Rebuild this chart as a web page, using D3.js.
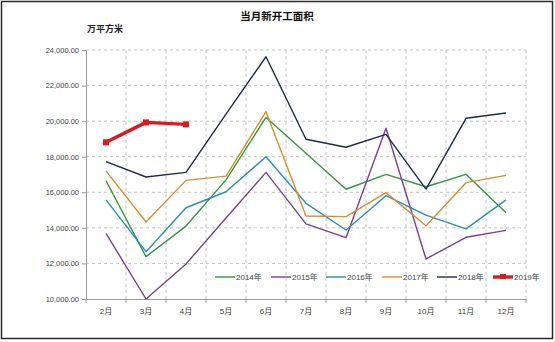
<!DOCTYPE html>
<html>
<head>
<meta charset="utf-8">
<script src="https://cdn.jsdelivr.net/npm/d3@7"></script>
<style>
  html, body { margin: 0; padding: 0; background: #fff; }
  svg { display: block; }
  text { font-family: "Liberation Sans", "Noto Sans CJK SC", sans-serif; }
</style>
</head>
<body>
<svg id="chart" width="555" height="342"></svg>
<script>
// Monthly new construction area (10k m²), Feb–Dec, one series per year
const months = ["2月", "3月", "4月", "5月", "6月", "7月", "8月", "9月", "10月", "11月", "12月"];
const years = ["2014年", "2015年", "2016年", "2017年", "2018年", "2019年"];
const yTicks = [10000, 12000, 14000, 16000, 18000, 20000, 22000, 24000];

const v2014 = [16650, 12380, 14100, 16700, 20210, 18190, 16170, 17010, 16310, 17010, 14850];
const v2015 = [13690, 10000, 11970, 14550, 17120, 14220, 13450, 19600, 12250, 13470, 13860];
const v2016 = [15570, 12660, 15130, 16030, 18000, 15380, 13880, 15810, 14720, 13940, 15570];
const v2017 = [17200, 14330, 16670, 16910, 20530, 14670, 14630, 15980, 14120, 16540, 16950];
const v2018 = [17720, 16860, 17120, 20400, 23620, 18980, 18530, 19260, 16180, 20160, 20460];
const v2019 = [18810, 19930, 19820];

const seriesValues = [v2014, v2015, v2016, v2017, v2018, v2019];
const colors = ["#2f9a3a", "#7a3f9d", "#2a8cc4", "#d98d2e", "#1e2b4e", "#e0181e"];
const widths = [1.4, 1.4, 1.4, 1.4, 1.4, 3.4];

const svg = d3.select("#chart");

// outer frame
svg.append("rect")
  .attr("x", 1.5).attr("y", 1.5).attr("width", 551).attr("height", 337)
  .attr("fill", "#fff").attr("stroke", "#2b2b2b").attr("stroke-width", 1.5);

const x = d3.scaleBand().domain(months).range([86, 526]).padding(0);
const y = d3.scaleLinear().domain([10000, 24000]).range([299, 50]);
const cx = m => x(m) + x.bandwidth() / 2;

// horizontal gridlines
svg.append("g").selectAll("line").data(yTicks.slice(1)).join("line")
  .attr("x1", 86).attr("x2", 526)
  .attr("y1", d => y(d)).attr("y2", d => y(d))
  .attr("stroke", "#b5b5b5").attr("stroke-width", 0.8).attr("stroke-dasharray", "3,3");

// vertical gridlines at category boundaries
svg.append("g").selectAll("line").data(months.map(m => x(m) + x.bandwidth())).join("line")
  .attr("x1", d => d).attr("x2", d => d)
  .attr("y1", y(24000)).attr("y2", y(10000))
  .attr("stroke", "#b5b5b5").attr("stroke-width", 0.8).attr("stroke-dasharray", "3,3");

// y axis
const yAxis = svg.append("g")
  .attr("transform", "translate(86,0)")
  .call(d3.axisLeft(y).tickValues(yTicks).tickFormat(d3.format(",.2f")).tickSize(4).tickPadding(3));
yAxis.select(".domain").attr("stroke", "#9a9a9a");
yAxis.selectAll(".tick line").attr("stroke", "#9a9a9a");
yAxis.selectAll(".tick text").attr("fill", "#444").style("font-size", "7.5px")
  .style("font-family", "'Liberation Sans', sans-serif");

// x axis
const xAxis = svg.append("g")
  .attr("transform", `translate(0,${y(10000)})`)
  .call(d3.axisBottom(x).tickSize(0).tickPadding(9));
xAxis.select(".domain").attr("stroke", "#9a9a9a");
xAxis.selectAll(".tick text").attr("fill", "#444").style("font-size", "8px")
  .style("font-family", "'Liberation Sans', 'Noto Sans CJK SC', sans-serif");
// tick marks on category boundaries
xAxis.append("g").selectAll("line").data([x(months[0])].concat(months.map(m => x(m) + x.bandwidth()))).join("line")
  .attr("x1", d => d).attr("x2", d => d).attr("y1", 0).attr("y2", 4)
  .attr("stroke", "#9a9a9a");

// series lines
const line = d3.line().x((d, i) => cx(months[i])).y(d => y(d));
seriesValues.forEach((vals, k) => {
  svg.append("path")
    .datum(vals)
    .attr("fill", "none")
    .attr("stroke", colors[k])
    .attr("stroke-width", widths[k])
    .attr("stroke-linejoin", "round")
    .attr("d", line);
});

// square markers on the 2019 series
svg.append("g").selectAll("rect").data(v2019).join("rect")
  .attr("x", (d, i) => cx(months[i]) - 3)
  .attr("y", d => y(d) - 3)
  .attr("width", 6).attr("height", 6)
  .attr("fill", colors[5]);

// legend
const legendX = [215, 271, 326, 382, 437, 493];
const legendY = 277;
const lg = svg.append("g");
years.forEach((name, k) => {
  lg.append("line")
    .attr("x1", legendX[k]).attr("x2", legendX[k] + 20)
    .attr("y1", legendY).attr("y2", legendY)
    .attr("stroke", colors[k]).attr("stroke-width", widths[k]);
  if (k === 5) {
    lg.append("rect").attr("x", legendX[k] + 7).attr("y", legendY - 3)
      .attr("width", 6).attr("height", 5).attr("fill", colors[k]);
  }
  lg.append("text")
    .attr("x", legendX[k] + 21).attr("y", legendY + 3)
    .attr("fill", "#444").style("font-size", "8px")
    .text(name);
});

// title and unit
svg.append("text")
  .attr("x", 277).attr("y", 20)
  .attr("text-anchor", "middle")
  .style("font-size", "10.5px").style("font-weight", "bold")
  .style("font-family", "'Noto Sans CJK SC', sans-serif")
  .attr("fill", "#111")
  .text("当月新开工面积");

svg.append("text")
  .attr("x", 87).attr("y", 32)
  .style("font-size", "9px").style("font-weight", "bold")
  .style("font-family", "'Noto Sans CJK SC', sans-serif")
  .attr("fill", "#222")
  .text("万平方米");
</script>
</body>
</html>
